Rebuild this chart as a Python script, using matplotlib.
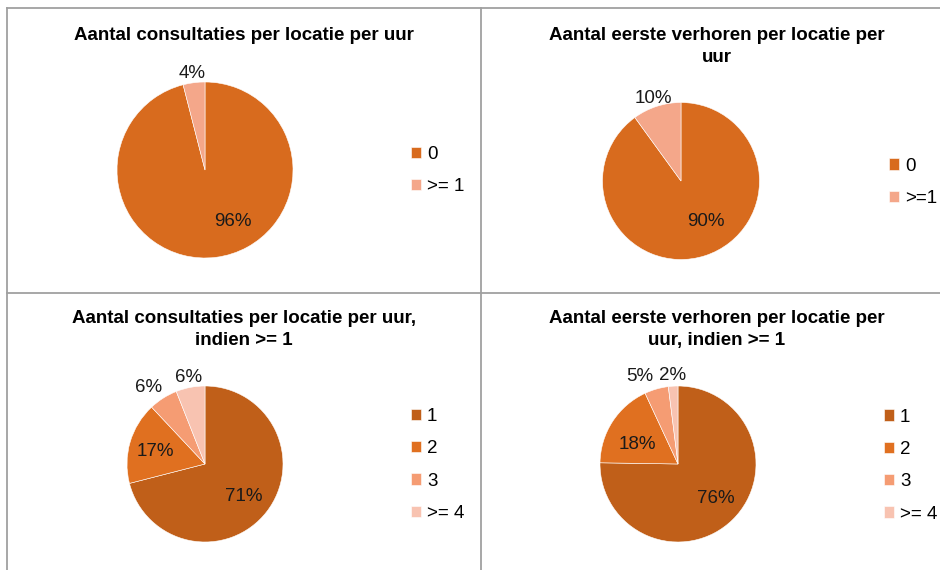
import numpy as np
import matplotlib
matplotlib.use("Agg")
import matplotlib.pyplot as plt
from matplotlib.lines import Line2D

plt.rcParams['font.family'] = ['Liberation Sans', 'DejaVu Sans']

# ---------------- data ----------------
titles = [
    "Aantal consultaties per locatie per uur",
    "Aantal eerste verhoren per locatie per\nuur",
    "Aantal consultaties per locatie per uur,\nindien >= 1",
    "Aantal eerste verhoren per locatie per\nuur, indien >= 1",
]
cats1 = ["0", ">= 1"]
vals1 = [96, 4]
cats2 = ["0", ">=1"]
vals2 = [90, 10]
cats3 = ["1", "2", "3", ">= 4"]
vals3 = [71, 17, 6, 6]
cats4 = ["1", "2", "3", ">= 4"]
vals4 = [76, 18, 5, 2]

# ---------------- styling / layout ----------------
W, H = 940, 570
FS = 13.5
col2 = ["#D86B1E", "#F4A78A"]
col4 = ["#C05F19", "#E07020", "#F59C73", "#F8C3B1"]

panels = [
    dict(cats=cats1, vals=vals1, cols=col2, c=(205, 170), r=88,
         title_xy=(244, 27), leg_xy=(411, 146),
         ldist=[0.65, 1.13], loff=[22, 0]),
    dict(cats=cats2, vals=vals2, cols=col2, c=(681, 181), r=78.5,
         title_xy=(717, 27), leg_xy=(889, 157.5),
         ldist=[0.59, 1.13], loff=[15, 0]),
    dict(cats=cats3, vals=vals3, cols=col4, c=(205, 464), r=78,
         title_xy=(244, 310), leg_xy=(411, 408),
         ldist=[0.63, 0.66, 1.24, 1.15], loff=[0, 0, 3, 0]),
    dict(cats=cats4, vals=vals4, cols=col4, c=(678, 464), r=78,
         title_xy=(717, 310), leg_xy=(884, 408.5),
         ldist=[0.64, 0.59, 1.24, 1.16], loff=[5, 5, 7, 0]),
]

fig = plt.figure(figsize=(W / 100, H / 100), dpi=100)
fig.patch.set_facecolor("white")

# grid borders
gcol = "#A0A0A0"
def fl(x0, y0, x1, y1):
    fig.add_artist(Line2D([x0 / W, x1 / W], [1 - y0 / H, 1 - y1 / H],
                          color=gcol, lw=1.3, transform=fig.transFigure))
fl(7, 8, W, 8)
fl(7, 293, W, 293)
fl(7, 8, 7, H)
fl(481, 8, 481, H)

for p, t in zip(panels, titles):
    cx, cy = p["c"]
    r = p["r"]
    ax = fig.add_axes([(cx - r) / W, 1 - (cy + r) / H, 2 * r / W, 2 * r / H])
    wedges, _ = ax.pie(p["vals"], colors=p["cols"], startangle=90,
                       counterclock=False, radius=1,
                       wedgeprops=dict(edgecolor="white", linewidth=0.4))
    ax.set_xlim(-1, 1)
    ax.set_ylim(-1, 1)
    ax.set_aspect("equal")
    ax.axis("off")
    for w, v, d, off in zip(wedges, p["vals"], p["ldist"], p["loff"]):
        mid = np.deg2rad((w.theta1 + w.theta2) / 2 + off)
        ax.text(d * np.cos(mid), d * np.sin(mid), f"{v}%",
                ha="center", va="center_baseline", fontsize=FS,
                color="#1a1a1a", clip_on=False)
    tx, ty = p["title_xy"]
    fig.text(tx / W, 1 - ty / H, t, ha="center", va="top",
             fontsize=FS, fontweight="bold", linespacing=1.38)
    lx, ly = p["leg_xy"]
    fig.legend(wedges, p["cats"], loc="upper left",
               bbox_to_anchor=(lx / W, 1 - ly / H), frameon=False,
               fontsize=FS, handlelength=0.55, handleheight=0.55,
               handletextpad=0.3, labelspacing=0.82, borderpad=0,
               borderaxespad=0)

fig.savefig("out.png", dpi=100)
